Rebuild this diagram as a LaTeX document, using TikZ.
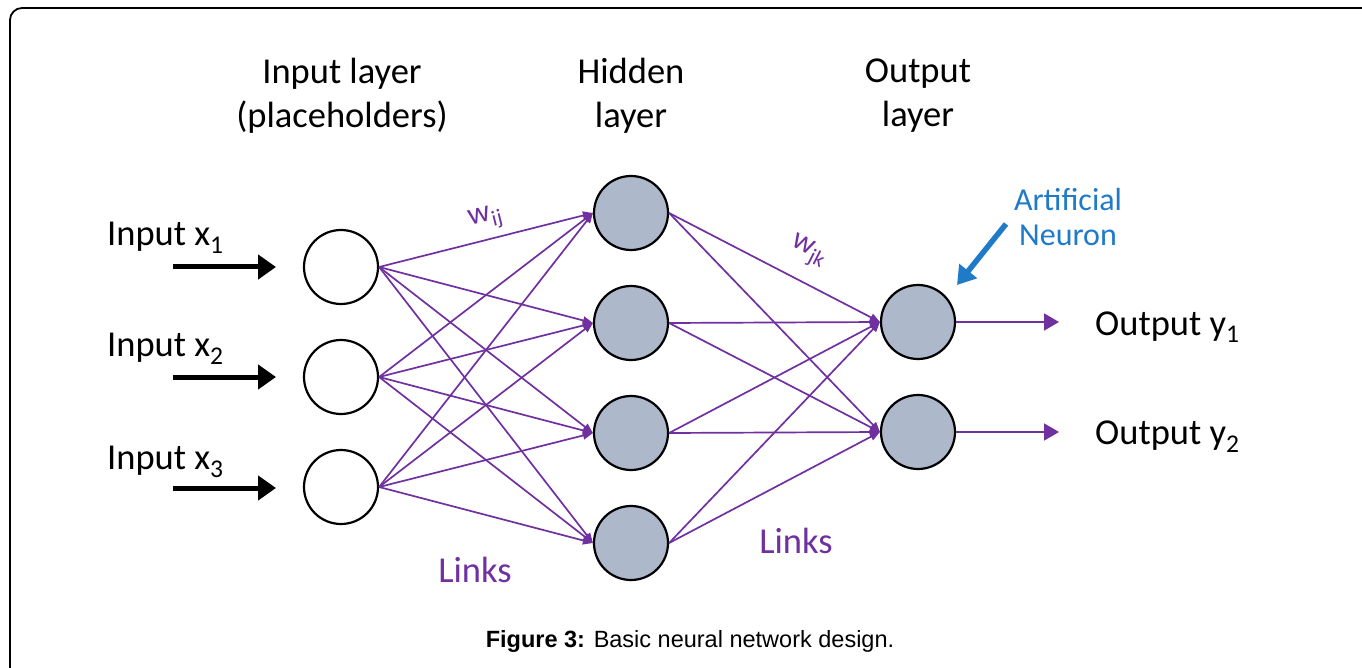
\documentclass[tikz,border=0pt]{standalone}
\usepackage{fontspec}
\setmainfont{Carlito}
\newfontfamily\capfont{Liberation Sans}
\usetikzlibrary{arrows.meta}
\definecolor{linkc}{HTML}{7030A0}
\definecolor{neuronfill}{HTML}{ADB9CA}
\definecolor{bluec}{HTML}{1F7AC8}
\tikzset{
  inode/.style={circle,draw=black,line width=2.2pt,fill=white,minimum size=74pt,inner sep=0pt},
  hnode/.style={circle,draw=black,line width=2.2pt,fill=neuronfill,minimum size=74pt,inner sep=0pt},
  link/.style={draw=linkc,line width=1.7pt,-{Triangle[length=10pt,width=8pt]}},
  outarrow/.style={draw=linkc,line width=1.9pt,-{Triangle[length=15pt,width=17pt]}},
  inarrow/.style={draw=black,line width=5pt,-{Triangle[length=18pt,width=24pt]}},
  title/.style={font=\fontsize{36.5}{44}\selectfont,align=center,text=black},
  lbl/.style={font=\fontsize{36.5}{40}\selectfont,text=black},
  purp/.style={font=\fontsize{36.5}{40}\selectfont,text=linkc},
  wlbl/.style={font=\fontsize{31}{34}\selectfont,text=linkc,inner sep=0pt},
}
\begin{document}
\begin{tikzpicture}[x=1pt,y=-1pt]
\useasboundingbox (0,0) rectangle (1362,668);
\fill[white] (0,0) rectangle (1362,668);
\draw[line width=1.8pt,rounded corners=12pt] (10,668) -- (10,8) -- (1362,8);

% layer titles
\node[title] (tin) at (342,96) {Input layer\\(placeholders)};
\node[title] (thid) at (631,96) {Hidden\\layer};
\node[title] (tout) at (918,96) {Output\\layer};

% nodes
\node[inode] (i1) at (341,267) {};
\node[inode] (i2) at (341,377) {};
\node[inode] (i3) at (341,487) {};
\node[hnode] (h1) at (631,213) {};
\node[hnode] (h2) at (631,323) {};
\node[hnode] (h3) at (631,433) {};
\node[hnode] (h4) at (631,543) {};
\node[hnode] (o1) at (918,322) {};
\node[hnode] (o2) at (918,432) {};

% links input -> hidden
\foreach \i in {1,2,3}{
  \foreach \h in {1,2,3,4}{
    \draw[link] (i\i.east) -- (h\h.west);
  }
}
% links hidden -> output
\foreach \h in {1,2,3,4}{
  \foreach \o in {1,2}{
    \draw[link] (h\h.east) -- (o\o.west);
  }
}

% input arrows and labels
\foreach \k/\y in {1/267,2/377,3/488}{
  \coordinate (as\k) at (173,\y);
  \coordinate (ae\k) at (276,\y);
  \draw[inarrow] (as\k) -- (ae\k);
}
\node[lbl,anchor=base west,inner sep=0pt] (lx1) at (107,246) {Input x\textsubscript{1}};
\node[lbl,anchor=base west,inner sep=0pt] (lx2) at (107,356) {Input x\textsubscript{2}};
\node[lbl,anchor=base west,inner sep=0pt] (lx3) at (107,469) {Input x\textsubscript{3}};

% output arrows and labels
\coordinate (oe1) at (1059,322);
\coordinate (oe2) at (1059,432);
\draw[outarrow] (o1.east) -- (oe1);
\draw[outarrow] (o2.east) -- (oe2);
\node[lbl,anchor=base west,inner sep=0pt] (ly1) at (1095,335) {Output y\textsubscript{1}};
\node[lbl,anchor=base west,inner sep=0pt] (ly2) at (1095,444) {Output y\textsubscript{2}};

% weight labels
\node[wlbl,rotate=14] (wij) at (486,219) {w\textsubscript{ij}};
\node[wlbl,rotate=-27] (wjk) at (808,252) {w\textsubscript{jk}};

% links labels
\node[purp] (l1) at (475,570) {Links};
\node[purp] (l2) at (796,541) {Links};

% artificial neuron
\node[font=\fontsize{32}{35}\selectfont,text=bluec,align=center] (an) at (1068,217) {Artificial\\Neuron};
\coordinate (bs) at (1006,224);
\coordinate (be) at (957,285);
\draw[draw=bluec,line width=5.5pt,-{Triangle[length=18pt,width=22pt]}] (bs) -- (be);

% caption
\node[font=\capfont\fontsize{23.5}{28}\selectfont] (cap) at (690,641) {\textbf{Figure 3:} Basic neural network design.};
\end{tikzpicture}
\end{document}
